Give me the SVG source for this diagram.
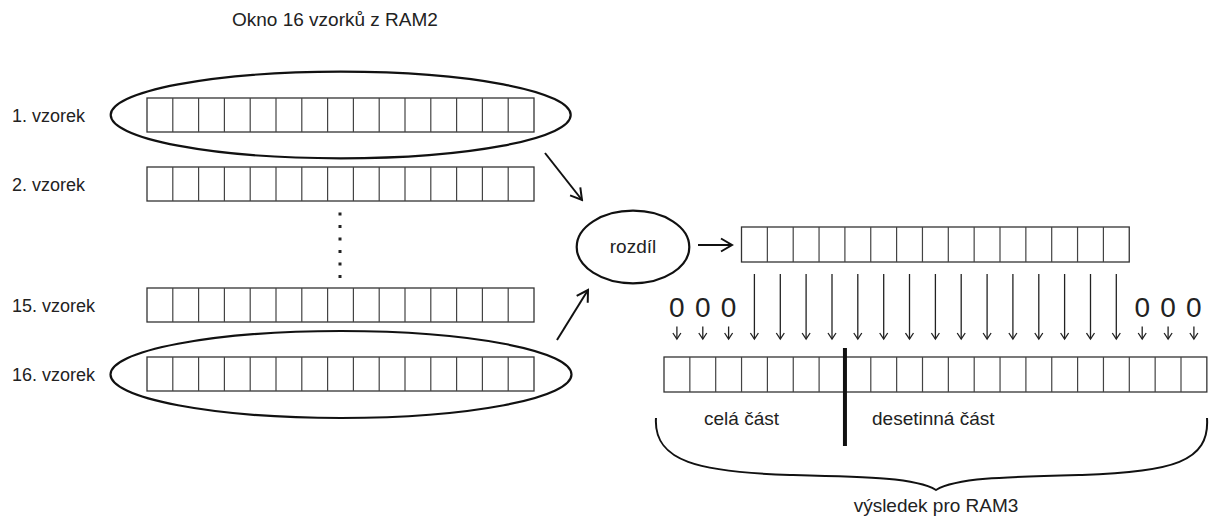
<svg xmlns="http://www.w3.org/2000/svg" width="1209" height="518" viewBox="0 0 1209 518">
<style>
text{font-family:"Liberation Sans",Arial,sans-serif;fill:#222}
.lbl{font-size:18px}
.t19{font-size:19px}
.zero{font-size:28px;text-anchor:middle}
.cell{fill:#fff;stroke:#333;stroke-width:1.3}
.div{fill:none;stroke:#444;stroke-width:1.2}
.oval{fill:none;stroke:#111;stroke-width:2.2}
.big{fill:none;stroke:#111;stroke-width:2;marker-end:url(#ah)}
.dn{fill:none;stroke:#222;stroke-width:1.3;marker-end:url(#as)}
</style>
<defs>
<marker id="ah" markerUnits="userSpaceOnUse" markerWidth="14" markerHeight="16" refX="12" refY="8" orient="auto" viewBox="0 0 14 16"><path d="M1,1.5 L12,8 L1,14.5" fill="none" stroke="#111" stroke-width="2"/></marker>
<marker id="as" markerUnits="userSpaceOnUse" markerWidth="10" markerHeight="10" refX="8" refY="5" orient="auto" viewBox="0 0 10 10"><path d="M2,1 L8,5 L2,9" fill="none" stroke="#222" stroke-width="1.3"/></marker>
</defs>
<rect width="1209" height="518" fill="#fff"/>
<text class="t19" x="232" y="26">Okno 16 vzorků z RAM2</text>

<g id="row1">
<text class="lbl" x="12" y="121.5">1. vzorek</text>
<rect class="cell" x="147" y="98" width="387" height="34"/>
<path class="div" d="M172.8 98V132M198.6 98V132M224.4 98V132M250.2 98V132M276 98V132M301.8 98V132M327.6 98V132M353.4 98V132M379.2 98V132M405 98V132M430.8 98V132M456.6 98V132M482.4 98V132M508.2 98V132"/>
<ellipse class="oval" cx="340.7" cy="115" rx="230" ry="43.3"/>
</g>
<g id="row2">
<text class="lbl" x="12" y="191">2. vzorek</text>
<rect class="cell" x="147" y="167" width="387" height="34"/>
<path class="div" d="M172.8 167V201M198.6 167V201M224.4 167V201M250.2 167V201M276 167V201M301.8 167V201M327.6 167V201M353.4 167V201M379.2 167V201M405 167V201M430.8 167V201M456.6 167V201M482.4 167V201M508.2 167V201"/>
</g>
<g id="dots" fill="#222">
<rect x="338.5" y="212.5" width="3" height="3"/>
<rect x="338.5" y="225" width="3" height="3"/>
<rect x="338.5" y="237.5" width="3" height="3"/>
<rect x="338.5" y="250" width="3" height="3"/>
<rect x="338.5" y="262.5" width="3" height="3"/>
<rect x="338.5" y="275" width="3" height="3"/>
</g>
<g id="row15">
<text class="lbl" x="12" y="311.5">15. vzorek</text>
<rect class="cell" x="147" y="288" width="387" height="34"/>
<path class="div" d="M172.8 288V322M198.6 288V322M224.4 288V322M250.2 288V322M276 288V322M301.8 288V322M327.6 288V322M353.4 288V322M379.2 288V322M405 288V322M430.8 288V322M456.6 288V322M482.4 288V322M508.2 288V322"/>
</g>
<g id="row16">
<text class="lbl" x="12" y="381">16. vzorek</text>
<rect class="cell" x="147" y="357" width="387" height="34"/>
<path class="div" d="M172.8 357V391M198.6 357V391M224.4 357V391M250.2 357V391M276 357V391M301.8 357V391M327.6 357V391M353.4 357V391M379.2 357V391M405 357V391M430.8 357V391M456.6 357V391M482.4 357V391M508.2 357V391"/>
<ellipse class="oval" cx="341" cy="374.5" rx="230.5" ry="43.5"/>
</g>

<g id="rozdil">
<ellipse class="oval" cx="633" cy="247" rx="56.3" ry="36.3"/>
<text class="t19" x="633" y="253" text-anchor="middle">rozdíl</text>
</g>

<g id="diffrow">
<rect class="cell" x="741.5" y="227" width="387.75" height="35"/>
<path class="div" d="M767.35 227V262M793.2 227V262M819.05 227V262M844.9 227V262M870.75 227V262M896.6 227V262M922.45 227V262M948.3 227V262M974.15 227V262M1000 227V262M1025.85 227V262M1051.7 227V262M1077.55 227V262M1103.4 227V262"/>
</g>

<g id="result">
<rect class="cell" x="664" y="357" width="542.85" height="35"/>
<path class="div" d="M689.85 357V392M715.7 357V392M741.55 357V392M767.4 357V392M793.25 357V392M819.1 357V392M870.8 357V392M896.65 357V392M922.5 357V392M948.35 357V392M974.2 357V392M1000.05 357V392M1025.9 357V392M1051.75 357V392M1077.6 357V392M1103.45 357V392M1129.3 357V392M1155.15 357V392M1181 357V392"/>
<line x1="844.95" y1="348" x2="844.95" y2="446" stroke="#111" stroke-width="4"/>
<text class="t19" x="704" y="425">celá část</text>
<text class="t19" x="872" y="425">desetinná část</text>
<path d="M656 418 C653 462 700 472 790 475 C870 477 916 478 936 490 C956 478 1002 477 1082 475 C1172 472 1210 462 1207 418" fill="none" stroke="#111" stroke-width="2"/>
<text class="t19" x="936" y="512" text-anchor="middle">výsledek pro RAM3</text>
</g>

<g id="zeros">
<text class="zero" x="676.9" y="317">0</text>
<text class="zero" x="702.8" y="317">0</text>
<text class="zero" x="728.6" y="317">0</text>
<text class="zero" x="1142.2" y="317">0</text>
<text class="zero" x="1168.1" y="317">0</text>
<text class="zero" x="1193.9" y="317">0</text>
</g>

<g id="connectors">
<line class="big" x1="545" y1="153" x2="582" y2="200"/>
<line class="big" x1="557" y1="340" x2="588" y2="290"/>
<line class="big" x1="698" y1="245" x2="732" y2="245"/>
<path class="dn" d="M754.4 274V339"/>
<path class="dn" d="M780.3 274V339"/>
<path class="dn" d="M806.1 274V339"/>
<path class="dn" d="M832 274V339"/>
<path class="dn" d="M857.8 274V339"/>
<path class="dn" d="M883.7 274V339"/>
<path class="dn" d="M909.5 274V339"/>
<path class="dn" d="M935.4 274V339"/>
<path class="dn" d="M961.2 274V339"/>
<path class="dn" d="M987.1 274V339"/>
<path class="dn" d="M1012.9 274V339"/>
<path class="dn" d="M1038.8 274V339"/>
<path class="dn" d="M1064.6 274V339"/>
<path class="dn" d="M1090.5 274V339"/>
<path class="dn" d="M1116.3 274V339"/>
<path class="dn" d="M676.9 326.5V339"/>
<path class="dn" d="M702.8 326.5V339"/>
<path class="dn" d="M728.6 326.5V339"/>
<path class="dn" d="M1142.2 326.5V339"/>
<path class="dn" d="M1168.1 326.5V339"/>
<path class="dn" d="M1193.9 326.5V339"/>
</g>
</svg>
